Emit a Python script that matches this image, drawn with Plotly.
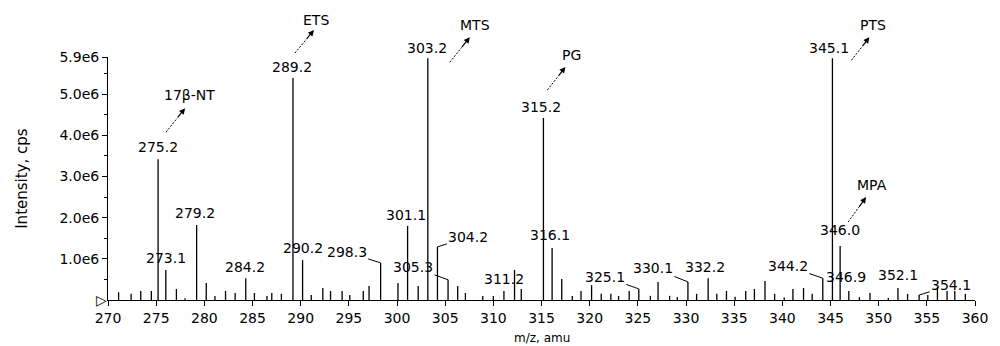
import plotly.graph_objects as go

# ---------------- data ----------------
mz = [271.1, 272.4, 273.4, 274.5, 275.2, 276.0, 277.1, 278.0, 279.2, 280.2,
      281.1, 282.2, 283.2, 284.3, 285.2, 286.5, 287.0, 288.0, 289.2, 290.2,
      291.1, 292.3, 293.1, 294.3, 295.1, 296.5, 297.1, 298.3, 300.1, 301.1,
      302.2, 303.2, 304.2, 305.3, 306.3, 307.1, 308.9, 310.0, 311.1, 312.2,
      312.9, 315.2, 316.1, 317.1, 318.2, 319.1, 320.2, 321.2, 322.2, 323.0,
      324.1, 325.1, 326.3, 327.1, 328.3, 329.1, 330.2, 331.1, 332.3, 333.2,
      334.2, 335.1, 336.2, 337.1, 338.2, 339.2, 340.2, 341.1, 342.2, 343.1,
      344.2, 345.2, 346.0, 346.9, 348.0, 349.1, 351.0, 352.0, 353.0, 354.2,
      355.1, 356.1, 357.1, 357.9, 359.0]
intensity_e6 = [0.19, 0.15, 0.22, 0.22, 3.42, 0.73, 0.27, 0.04, 1.82, 0.41,
                0.10, 0.22, 0.17, 0.53, 0.17, 0.10, 0.17, 0.15, 5.39, 0.97,
                0.12, 0.29, 0.22, 0.22, 0.12, 0.22, 0.34, 0.90, 0.41, 1.80,
                0.34, 5.87, 1.29, 0.49, 0.34, 0.17, 0.10, 0.10, 0.22, 0.73,
                0.27, 4.42, 1.26, 0.51, 0.10, 0.22, 0.36, 0.15, 0.15, 0.10,
                0.22, 0.27, 0.10, 0.44, 0.10, 0.07, 0.44, 0.15, 0.53, 0.15,
                0.22, 0.08, 0.22, 0.27, 0.46, 0.15, 0.06, 0.27, 0.29, 0.15,
                0.53, 5.87, 1.31, 0.22, 0.07, 0.17, 0.05, 0.29, 0.15, 0.12,
                0.12, 0.32, 0.22, 0.22, 0.15]

# peak labels: (peak m/z, label text)
label_peaks = [275.2, 276.0, 279.2, 284.3, 289.2, 290.2, 301.1, 303.2, 311.1,
               315.2, 316.1, 332.3, 345.2, 346.0, 346.9, 352.0]
label_texts = ["275.2", "273.1", "279.2", "284.2", "289.2", "290.2", "301.1",
               "303.2", "311.2", "315.2", "316.1", "332.2", "345.1", "346.0",
               "346.9", "352.1"]
# labels connected with a leader line
leader_peaks = [298.3, 304.2, 305.3, 325.1, 330.2, 344.2, 354.2]
leader_texts = ["298.3", "304.2", "305.3", "325.1", "330.1", "344.2", "354.1"]
# compound names
compound_peaks = [275.2, 289.2, 303.2, 315.2, 345.2, 346.0]
compound_names = ["17β-NT", "ETS", "MTS", "PG", "PTS", "MPA"]

x_ticks = list(range(270, 361, 5))
y_tickvals_e6 = [1.0, 2.0, 3.0, 4.0, 5.0, 5.9]
y_ticktext = ["1.0e6", "2.0e6", "3.0e6", "4.0e6", "5.0e6", "5.9e6"]

# ---------------- layout offsets (pixels) ----------------
label_shift = {  # (xshift, yshift)
    "275.2": (0, 12), "273.1": (0, 12), "279.2": (-2, 12), "284.2": (-1, 11),
    "289.2": (-1, 11), "290.2": (0, 12), "301.1": (-2, 11), "303.2": (-1, 10),
    "311.2": (0, 12), "315.2": (-2, 11), "316.1": (-2, 13), "332.2": (-3, 11),
    "345.1": (-3, 10), "346.0": (0, 16), "346.9": (-3, 14), "352.1": (0, 13),
}
leader_off = {  # (ax, ay) of text relative to peak top
    "298.3": (-34, -11), "304.2": (31, -10), "305.3": (-35, -13),
    "325.1": (-34, -12), "330.1": (-35, -14), "344.2": (-35, -12),
    "354.1": (32, -10),
}
compound_geo = {  # head shift (xs, ys up), tail (ax, ay down), name shift (xs, ys up)
    "17β-NT": ((27, 51), (-19, 24), (31, 64)),
    "ETS": ((21, 48), (-19, 23), (23, 58)),
    "MTS": ((42, 21), (-20, 25), (47, 33)),
    "PG": ((22, 51), (-18, 23), (28, 63)),
    "PTS": ((37, 21), (-18, 23), (41, 33)),
    "MPA": ((26, 49), (-18, 25), (32, 61)),
}

FONT = "DejaVu Sans"
E6 = 1e6
Y_MAX_E6 = 5.9

xs, ys = [], []
for m, h in zip(mz, intensity_e6):
    xs += [m, m, None]
    ys += [0, h * E6, None]

fig = go.Figure()
fig.add_trace(go.Scatter(x=xs, y=ys, mode="lines",
                         line=dict(color="black", width=1.3),
                         hoverinfo="skip", showlegend=False))

h_of = dict(zip(mz, intensity_e6))
ann = []
shapes = []
for p, t in zip(label_peaks, label_texts):
    dx, dy = label_shift[t]
    ann.append(dict(x=p, y=h_of[p] * E6, xref="x", yref="y", text=t,
                    showarrow=False, xanchor="center", yanchor="middle",
                    xshift=dx, yshift=dy, font=dict(family=FONT, size=14, color="black")))
for p, t in zip(leader_peaks, leader_texts):
    ax, ay = leader_off[t]
    ann.append(dict(x=p, y=h_of[p] * E6, xref="x", yref="y", text=t,
                    showarrow=True, arrowhead=0, arrowwidth=1, arrowcolor="black",
                    ax=ax, ay=ay, standoff=0,
                    font=dict(family=FONT, size=14, color="black")))
for p, n in zip(compound_peaks, compound_names):
    (hx, hy), (tx, ty), (nx, ny) = compound_geo[n]
    # dashed shaft (paper y so it is not clipped above the plot area)
    shapes.append(dict(type="line", xref="x", yref="paper",
                       xsizemode="pixel", ysizemode="pixel",
                       xanchor=p, yanchor=h_of[p] / Y_MAX_E6,
                       x0=hx + tx, x1=hx + 0.4 * tx, y0=hy - ty, y1=hy - 0.4 * ty,
                       line=dict(color="black", width=1, dash="2px,1.5px")))
    # arrow head with short solid shaft
    ann.append(dict(x=p, y=h_of[p] * E6, xref="x", yref="y", text="",
                    showarrow=True, arrowhead=2, arrowsize=1, arrowwidth=1.2,
                    arrowcolor="black", ax=0.45 * tx, ay=0.45 * ty, xshift=hx, yshift=hy))
    ann.append(dict(x=p, y=h_of[p] * E6, xref="x", yref="y", text=n,
                    showarrow=False, xanchor="center", yanchor="middle",
                    xshift=nx, yshift=ny, font=dict(family=FONT, size=14, color="black")))

# origin triangle
ann.append(dict(x=270, y=0, xref="x", yref="y", text="▷", showarrow=False,
                xanchor="right", yanchor="middle", xshift=1,
                font=dict(family=FONT, size=14, color="black")))
# axis titles
ann.append(dict(x=-0.1, y=0.5, xref="paper", yref="paper", text="Intensity, cps",
                textangle=-90, showarrow=False, xanchor="center", yanchor="middle",
                font=dict(family=FONT, size=15, color="black")))
ann.append(dict(x=0.5, y=-0.156, xref="paper", yref="paper", text="m/z, amu",
                showarrow=False, xanchor="center", yanchor="middle",
                font=dict(family=FONT, size=12, color="black")))

fig.update_layout(
    width=1000, height=346,
    margin=dict(l=108, r=15, t=57, b=46),
    plot_bgcolor="white", paper_bgcolor="white",
    annotations=ann, shapes=shapes,
    xaxis=dict(range=[270, 360], tickvals=x_ticks, ticktext=[str(v) for v in x_ticks],
               showline=True, linecolor="black", linewidth=1, ticks="outside",
               ticklen=5, tickcolor="black", showgrid=False, zeroline=False,
               tickfont=dict(family=FONT, size=14, color="black")),
    yaxis=dict(range=[0, Y_MAX_E6 * E6], tickvals=[v * E6 for v in y_tickvals_e6],
               ticktext=y_ticktext, showline=True, linecolor="black", linewidth=1,
               ticks="outside", ticklen=5, tickcolor="black", showgrid=False,
               zeroline=False,
               minor=dict(tickvals=[v * 0.5 * E6 for v in range(1, 12, 2)],
                          ticks="outside", ticklen=3, tickcolor="black"),
               tickfont=dict(family=FONT, size=14, color="black")),
)

# remove the browser's default 8px body margin so the 1000x346 figure fills the window
fig.write_html("out.html", config={"displayModeBar": False},
               post_script="document.body.style.margin='0px';document.body.style.overflow='hidden';")
